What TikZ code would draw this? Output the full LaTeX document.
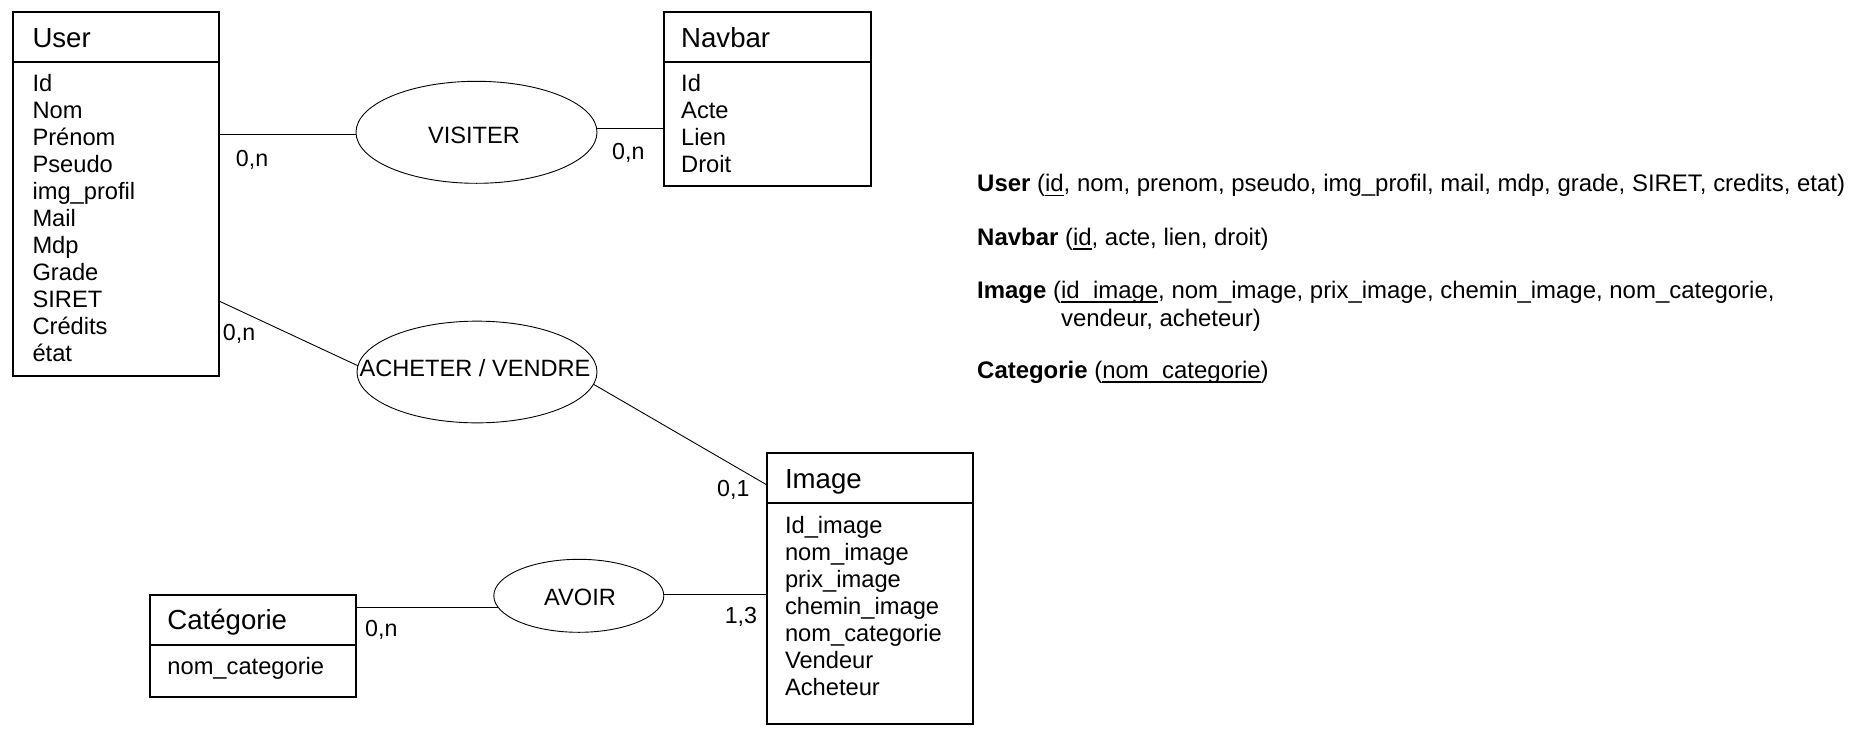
\documentclass[tikz,border=0pt]{standalone}
\usepackage{fontspec}
\setmainfont{Liberation Sans}
\usetikzlibrary{shapes.geometric,calc}
\newcommand\keyul[1]{\setbox0\hbox{#1}\rlap{\rule[-4.5pt]{\wd0}{1.4pt}}\box0}
\begin{document}
\begin{tikzpicture}[x=1pt,y=-1pt,
  entity/.style={draw, line width=1.8pt, anchor=north west, inner sep=0pt, outer sep=0pt},
  divider/.style={line width=1.8pt},
  head/.style={anchor=base west, inner sep=0pt, font=\fontsize{27.6}{33}\selectfont},
  attr/.style={anchor=base west, inner sep=0pt, font=\fontsize{23.7}{27}\selectfont},
  card/.style={anchor=base west, inner sep=0pt, font=\fontsize{23.2}{27}\selectfont},
  rel/.style={draw, ellipse, line width=0.9pt, inner sep=0pt, outer sep=0pt},
  reltext/.style={anchor=base, inner sep=0pt, font=\fontsize{23.6}{27}\selectfont},
  link/.style={line width=0.9pt},
  schema/.style={anchor=base west, inner sep=0pt, font=\fontsize{23.95}{28}\selectfont}]
\useasboundingbox (0,0) rectangle (1863,744);

% ---- User
\node[entity, minimum width=206pt, minimum height=363.7pt] (user) at (13,12) {};
\draw[divider] ($(user.north west)+(0,50)$) -- ($(user.north east)+(0,50)$);
\node[head] (user-h) at (32.3,47.7) {User};
\foreach \t [count=\i] in {Id,Nom,Prénom,Pseudo,img\_profil,Mail,Mdp,Grade,SIRET,Crédits,état}
  \node[attr] (user-a\i) at (32.3,{91.7+27*(\i-1)}) {\t};

% ---- Navbar
\node[entity, minimum width=207pt, minimum height=173.7pt] (nav) at (664,12) {};
\draw[divider] ($(nav.north west)+(0,50)$) -- ($(nav.north east)+(0,50)$);
\node[head] (nav-h) at (681,47.7) {Navbar};
\foreach \t [count=\i] in {Id,Acte,Lien,Droit}
  \node[attr] (nav-a\i) at (681,{91.7+27*(\i-1)}) {\t};

% ---- Image
\node[entity, minimum width=205.6pt, minimum height=271pt] (img) at (767,453.3) {};
\draw[divider] ($(img.north west)+(0,50)$) -- ($(img.north east)+(0,50)$);
\node[head] (img-h) at (784.8,488.5) {Image};
\foreach \t [count=\i] in {Id\_image,nom\_image,prix\_image,chemin\_image,nom\_categorie,Vendeur,Acheteur}
  \node[attr] (img-a\i) at (784.8,{533.3+27*(\i-1)}) {\t};

% ---- Categorie
\node[entity, minimum width=206pt, minimum height=102.3pt] (cat) at (150,595) {};
\draw[divider] ($(cat.north west)+(0,50)$) -- ($(cat.north east)+(0,50)$);
\node[head] (cat-h) at (167.2,629) {Catégorie};
\node[attr] (cat-a1) at (167.2,674) {nom\_categorie};

% ---- relations
\node[rel, minimum width=241pt, minimum height=102pt] (vis) at (476.5,132.3) {};
\node[reltext] (vis-t) at (474,143) {VISITER};
\node[rel, minimum width=240pt, minimum height=101.7pt] (ach) at (477,372) {};
\node[reltext] (ach-t) at (475,376.7) {ACHETER / VENDRE};
\node[rel, minimum width=170pt, minimum height=73pt] (avoir) at (578.8,595.8) {};
\node[reltext] (avoir-t) at (580,605) {AVOIR};

% ---- connectors
\draw[link] (vis.181) -- (vis.181 -| user.east);
\draw[link] (vis.2) -- (vis.2 -| nav.west);
\coordinate (u2) at ($(user.north east)+(0,289)$);
\draw[link] (u2) -- (ach.177);
\coordinate (i1) at ($(img.north west)+(0,31.7)$);
\draw[link] (ach.-6) -- (i1);
\draw[link] (avoir.188) -- (avoir.188 -| cat.east);
\draw[link] (avoir.1) -- (avoir.1 -| img.west);

% ---- cardinalities
\node[card] (c1) at (235.7,166.7) {0,n};
\node[card] (c2) at (612,159.3) {0,n};
\node[card] (c3) at (222.7,340.7) {0,n};
\node[card] (c4) at (717,496.7) {0,1};
\node[card] (c5) at (724.6,623.3) {1,3};
\node[card] (c6) at (365,636.7) {0,n};

% ---- relational schema
\node[schema] (rel-user) at (977,191.7) {\textbf{User} (\keyul{id}, nom, prenom, pseudo, img\_profil, mail, mdp, grade, SIRET, credits, etat)};
\node[schema] (rel-nav) at (977,245) {\textbf{Navbar} (\keyul{id}, acte, lien, droit)};
\node[schema] (rel-img1) at (977,298.3) {\textbf{Image} (\keyul{id\_image}, nom\_image, prix\_image, chemin\_image, nom\_categorie,};
\node[schema] (rel-img2) at (977,326.7) {\phantom{\textbf{Image} (}vendeur, acheteur)};
\node[schema] (rel-cat) at (977,378.3) {\textbf{Categorie} (\keyul{nom\_categorie})};
\end{tikzpicture}
\end{document}
